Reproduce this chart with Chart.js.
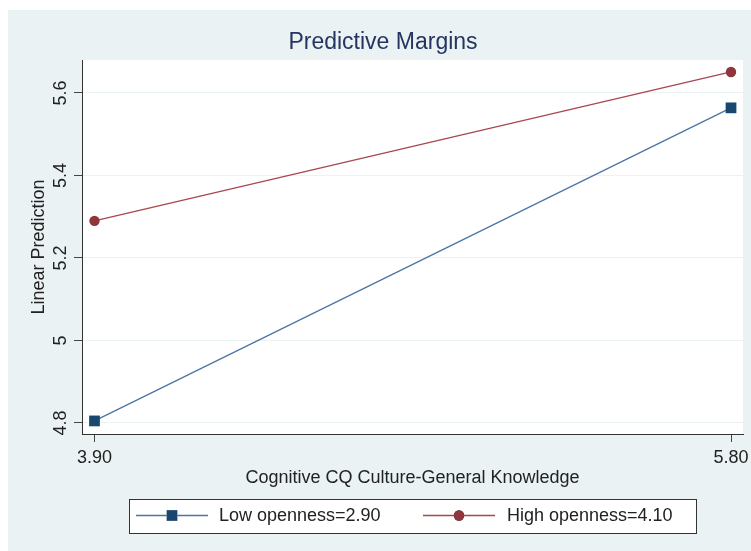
<!DOCTYPE html>
<html>
<head>
<meta charset="utf-8">
<script src="https://cdn.jsdelivr.net/npm/chart.js@4.4.1/dist/chart.umd.min.js"></script>
<style>
html,body{margin:0;padding:0;overflow:hidden;background:#ffffff;width:751px;height:551px;}
canvas{display:block;}
</style>
</head>
<body>
<canvas id="c" width="766" height="551"></canvas>
<script>
// ---- data ----
const xValues = [3.90, 5.80];
const lowOpenness = [4.805, 5.564];
const highOpenness = [5.290, 5.651];
const seriesLabels = ['Low openness=2.90', 'High openness=4.10'];
const xTicks = [3.90, 5.80];
const yTicks = [4.8, 5.0, 5.2, 5.4, 5.6];
const chartTitle = 'Predictive Margins';
const xTitle = 'Cognitive CQ Culture-General Knowledge';
const yTitle = 'Linear Prediction';

const FONT = "'Liberation Sans', Arial, sans-serif";
const BG = '#eaf2f3';

const bgPlugin = {
  id: 'bg',
  beforeDraw(chart) {
    const ctx = chart.ctx, a = chart.chartArea;
    ctx.save();
    ctx.fillStyle = '#ffffff';
    ctx.fillRect(0, 0, chart.width, chart.height);
    ctx.fillStyle = BG;
    ctx.fillRect(8, 10, chart.width - 8, chart.height - 10);
    ctx.fillStyle = '#ffffff';
    ctx.fillRect(a.left, a.top, a.right - a.left, a.bottom - a.top);
    ctx.restore();
  }
};

const legendPlugin = {
  id: 'stataLegend',
  afterDraw(chart) {
    const ctx = chart.ctx;
    const box = {x: 129, y: 499, w: 567, h: 34};
    ctx.save();
    ctx.fillStyle = '#ffffff';
    ctx.fillRect(box.x, box.y, box.w, box.h);
    ctx.strokeStyle = '#333333';
    ctx.lineWidth = 1;
    ctx.strokeRect(box.x + 0.5, box.y + 0.5, box.w, box.h);
    const items = [
      {x0: 136, x1: 208, tx: 219},
      {x0: 423, x1: 495, tx: 507}
    ];
    const cy = 515.5;
    chart.data.datasets.forEach((ds, i) => {
      const it = items[i];
      ctx.strokeStyle = ds.borderColor;
      ctx.lineWidth = ds.borderWidth;
      ctx.beginPath();
      ctx.moveTo(it.x0, cy);
      ctx.lineTo(it.x1, cy);
      ctx.stroke();
      const mx = (it.x0 + it.x1) / 2;
      Chart.helpers.drawPoint(ctx, {
        pointStyle: ds.pointStyle,
        radius: ds.pointRadius,
        borderWidth: 0
      }, mx, cy);
      ctx.fillStyle = ds.pointBackgroundColor;
      ctx.fill();
      ctx.fillStyle = '#222222';
      ctx.font = '18px ' + FONT;
      ctx.textBaseline = 'middle';
      ctx.textAlign = 'left';
      ctx.fillText(ds.label, it.tx, cy + 1);
    });
    ctx.restore();
  }
};

new Chart(document.getElementById('c'), {
  type: 'line',
  data: {
    datasets: [
      {
        label: seriesLabels[0],
        data: xValues.map((x, i) => ({x: x, y: lowOpenness[i]})),
        borderColor: '#4a76a4',
        borderWidth: 1.3,
        pointStyle: 'rect',
        pointRadius: 7.6,
        pointBackgroundColor: '#1a476f',
        pointBorderColor: '#1a476f',
        pointBorderWidth: 0,
        tension: 0
      },
      {
        label: seriesLabels[1],
        data: xValues.map((x, i) => ({x: x, y: highOpenness[i]})),
        borderColor: '#a8474e',
        borderWidth: 1.3,
        pointStyle: 'circle',
        pointRadius: 5.2,
        pointBackgroundColor: '#90353b',
        pointBorderColor: '#90353b',
        pointBorderWidth: 0,
        tension: 0
      }
    ]
  },
  options: {
    responsive: false,
    animation: false,
    devicePixelRatio: 1,
    layout: {padding: {left: 0, right: 0, top: 0, bottom: 0}},
    plugins: {
      legend: {display: false},
      tooltip: {enabled: false},
      title: {
        display: true,
        text: chartTitle,
        color: '#24355f',
        font: {family: FONT, size: 23, weight: 'normal'},
        padding: {top: 29, bottom: 3.4}
      }
    },
    scales: {
      x: {
        type: 'linear',
        min: 3.8627,
        max: 5.8358,
        afterBuildTicks(scale) { scale.ticks = xTicks.map(v => ({value: v})); },
        afterFit(scale) { scale.height = 117; },
        ticks: {
          color: '#222222',
          font: {family: FONT, size: 18},
          padding: 5,
          maxRotation: 0,
          callback: v => Number(v).toFixed(2)
        },
        grid: {drawOnChartArea: false, drawTicks: true, tickLength: 8, tickColor: '#444444', lineWidth: 1},
        border: {display: true, color: '#333333', width: 1},
        title: {
          display: true,
          text: xTitle,
          color: '#222222',
          font: {family: FONT, size: 18},
          padding: {top: 0, bottom: 62}
        }
      },
      y: {
        type: 'linear',
        min: 4.7733,
        max: 5.68,
        afterBuildTicks(scale) { scale.ticks = yTicks.map(v => ({value: v})); },
        afterFit(scale) { scale.width = 82; },
        ticks: {
          color: '#222222',
          font: {family: FONT, size: 18},
          padding: 0,
          minRotation: 90,
          maxRotation: 90,
          crossAlign: 'center',
          callback: v => String(Math.round(v * 10) / 10)
        },
        grid: {drawOnChartArea: true, color: '#eaf2f3', drawTicks: true, tickLength: 8, tickColor: '#444444', lineWidth: 1},
        border: {display: true, color: '#333333', width: 1},
        title: {
          display: true,
          text: yTitle,
          color: '#222222',
          font: {family: FONT, size: 18},
          padding: {top: 28, bottom: 0}
        }
      },
      spacer: {
        type: 'linear',
        position: 'right',
        display: true,
        afterFit(scale) { scale.width = 23; },
        ticks: {display: false},
        grid: {display: false},
        border: {display: false}
      }
    }
  },
  plugins: [bgPlugin, legendPlugin]
});
</script>
</body>
</html>
